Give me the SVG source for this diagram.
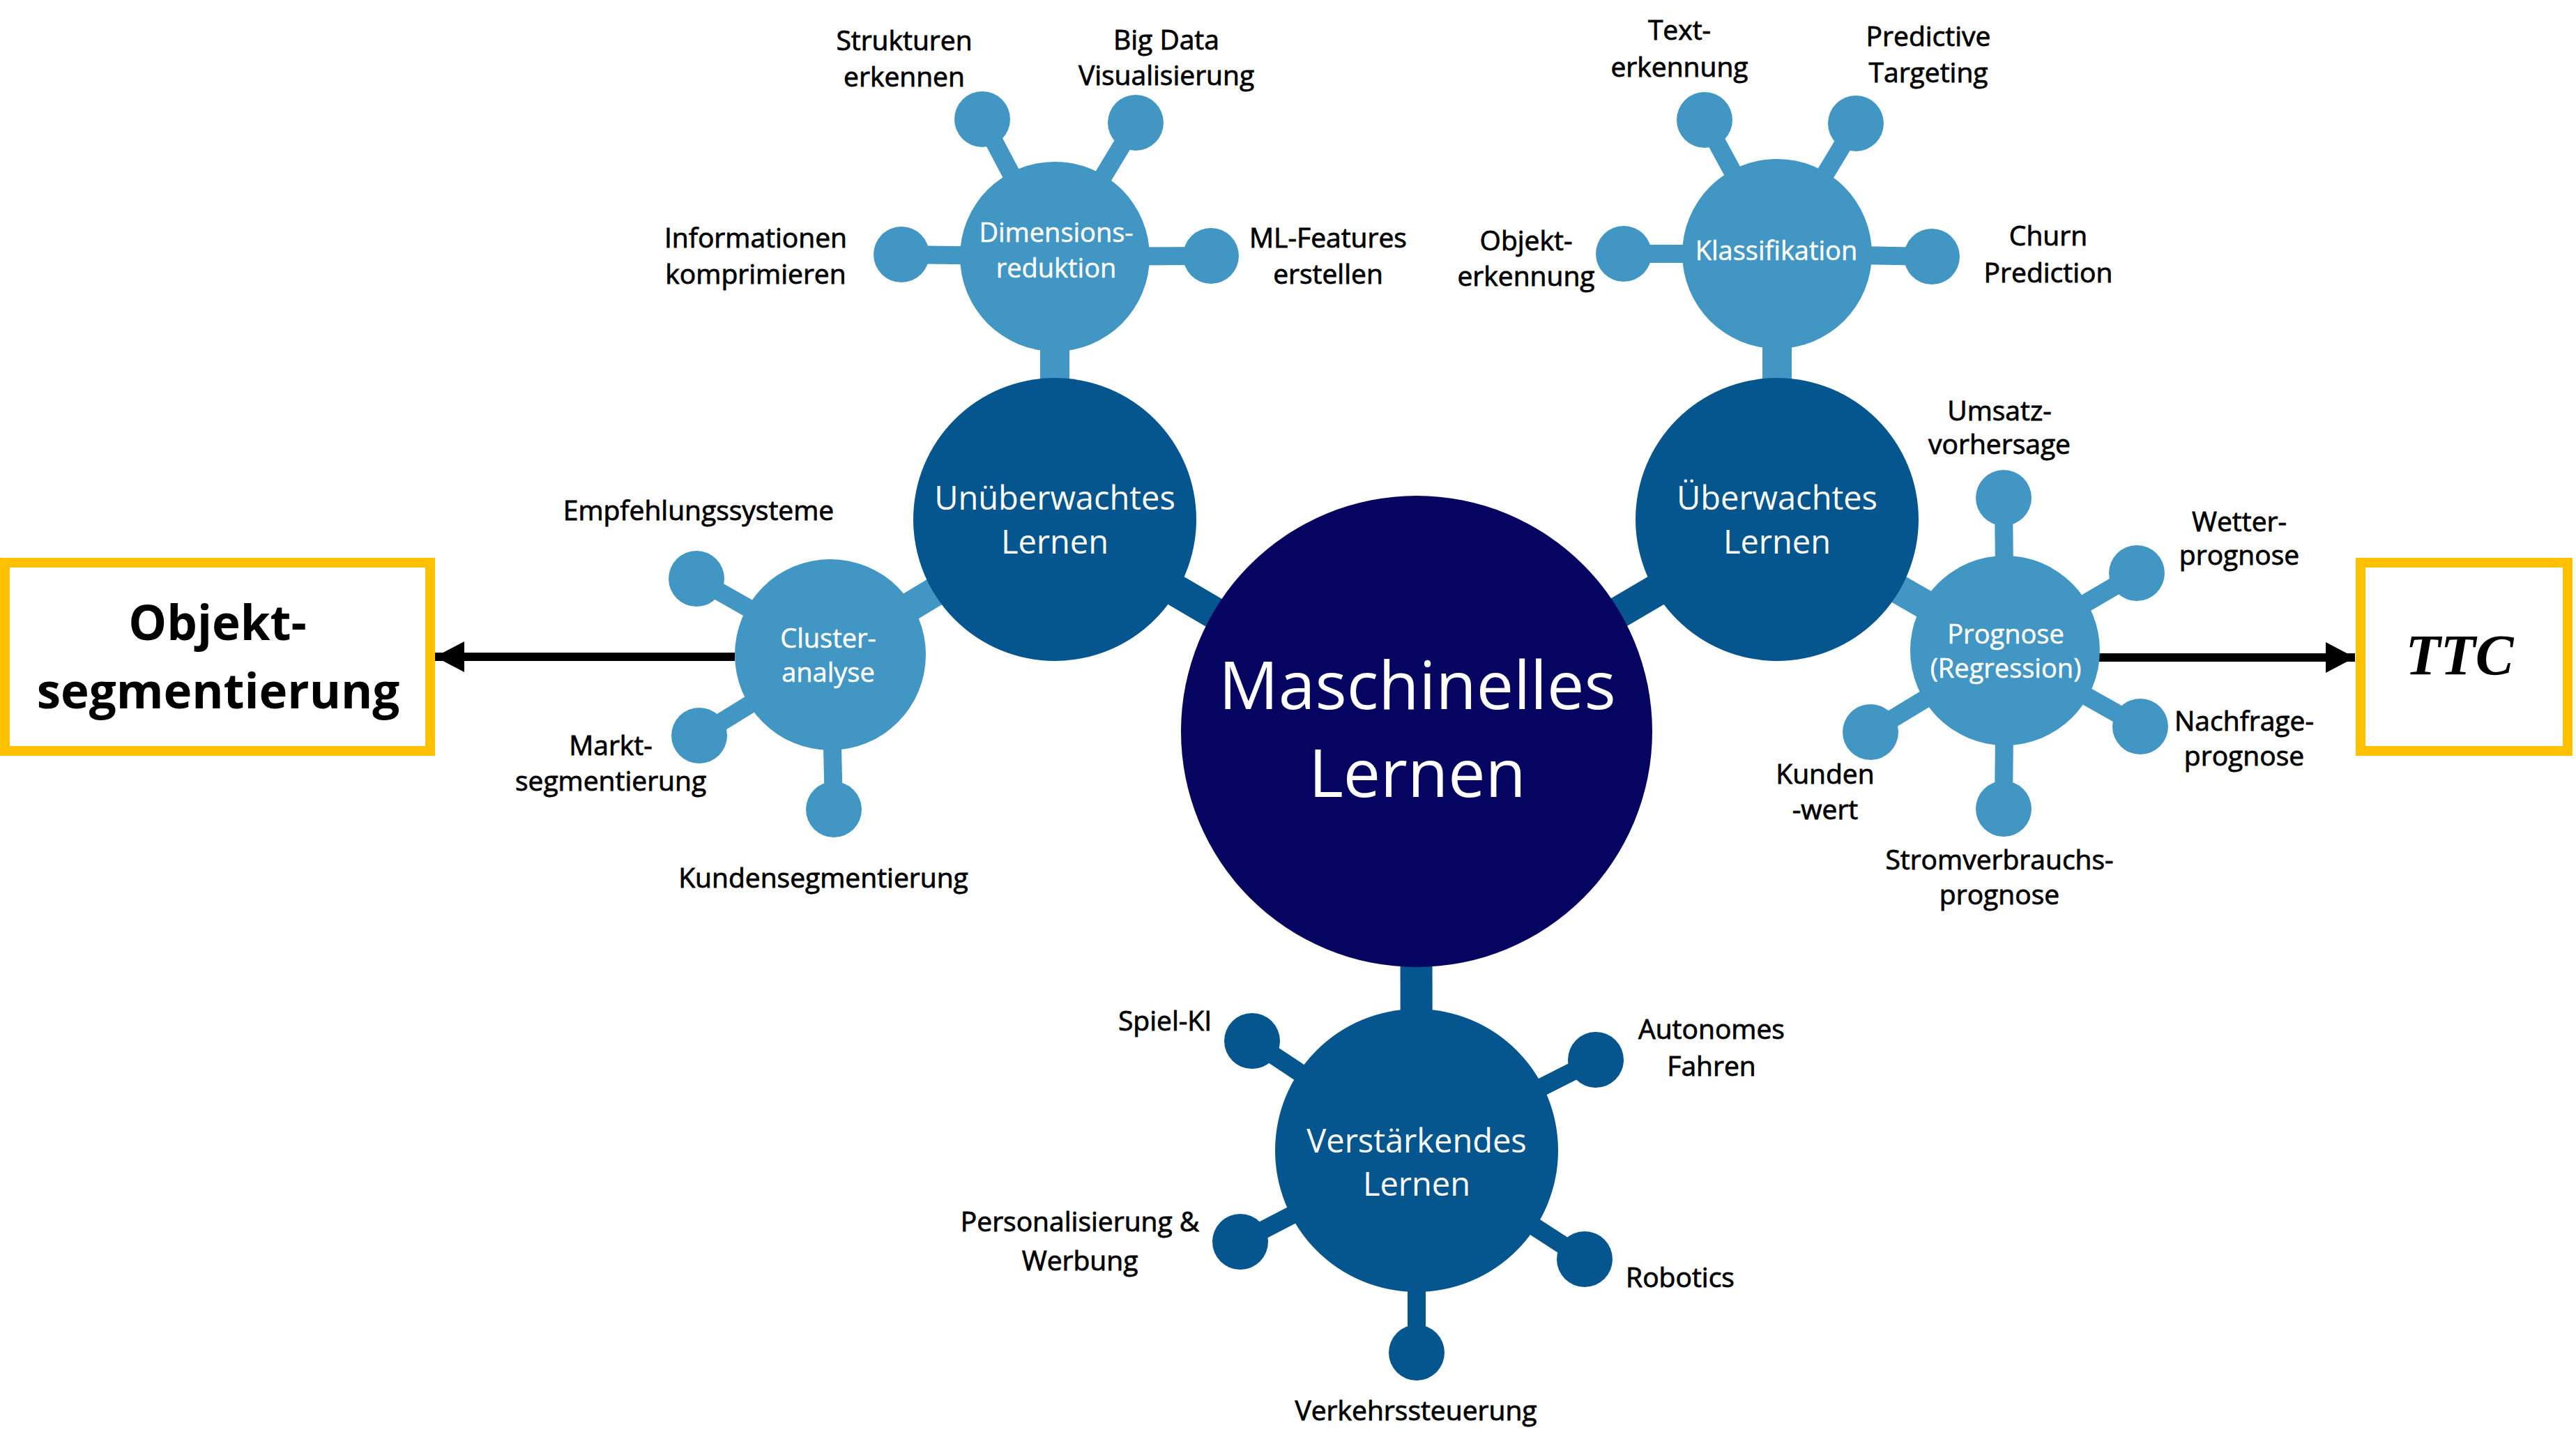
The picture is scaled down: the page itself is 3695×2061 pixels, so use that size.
<svg xmlns="http://www.w3.org/2000/svg" width="3695" height="2061" viewBox="0 0 3695 2061">
<style>
.l0{fill:#050561}
.l1{fill:#05568f}
.l2{fill:#4196c4}
.c1{stroke:#05568f;stroke-width:46;fill:none}
.c2{stroke:#4196c4;stroke-width:42;fill:none}
.cl{stroke:#4196c4;stroke-width:26;fill:none}
.cd{stroke:#05568f;stroke-width:26;fill:none}
.arr{stroke:#000;stroke-width:12;fill:none}
text{font-family:"Open Sans","Noto Sans",sans-serif;text-anchor:middle}
.lab{font-size:39px;fill:#000;stroke:#000;stroke-width:0.8}
.w2{font-size:38px;fill:#fff;stroke:#fff;stroke-width:0.5}
.w1{font-size:47px;fill:#fff}
.w0{font-size:95px;fill:#fff}
.box{fill:#fff;stroke:#FFC000;stroke-width:14}
.bt{font-size:69px;font-weight:bold;fill:#000}
.ttc{font-family:"Liberation Serif","DejaVu Serif",serif;font-size:82px;font-weight:bold;font-style:italic;fill:#000}
</style>
<defs>
<marker id="ah" markerUnits="userSpaceOnUse" markerWidth="42" markerHeight="44" viewBox="0 0 42 44" refX="42" refY="22" orient="auto">
<path d="M0,0 L42,22 L0,44 z" fill="#000"/>
</marker>
</defs>
<rect width="3695" height="2061" fill="#fff"/>
<g id="connectors">
<line class="c1" x1="1513" y1="745" x2="2031" y2="1049"/>
<line class="c1" x1="2549" y1="745" x2="2031" y2="1049"/>
<line class="c1" x1="2032" y1="1650" x2="2031" y2="1049"/>
<line class="c2" x1="1513" y1="368" x2="1513" y2="745"/>
<line class="c2" x1="1191" y1="939" x2="1513" y2="745"/>
<line class="c2" x1="2549" y1="364" x2="2549" y2="745"/>
<line class="c2" x1="2876" y1="933" x2="2549" y2="745"/>
<line class="cl" x1="1409" y1="171" x2="1513" y2="368"/>
<line class="cl" x1="1629" y1="176" x2="1513" y2="368"/>
<line class="cl" x1="1293" y1="365" x2="1513" y2="368"/>
<line class="cl" x1="1737" y1="367" x2="1513" y2="368"/>
<line class="cl" x1="2445" y1="172" x2="2549" y2="364"/>
<line class="cl" x1="2662" y1="177" x2="2549" y2="364"/>
<line class="cl" x1="2329" y1="364" x2="2549" y2="364"/>
<line class="cl" x1="2771" y1="368" x2="2549" y2="364"/>
<line class="cl" x1="999" y1="830" x2="1191" y2="939"/>
<line class="cl" x1="1003" y1="1055" x2="1191" y2="939"/>
<line class="cl" x1="1196" y1="1161" x2="1191" y2="939"/>
<line class="cl" x1="2874" y1="714" x2="2876" y2="933"/>
<line class="cl" x1="3065" y1="822" x2="2876" y2="933"/>
<line class="cl" x1="3070" y1="1042" x2="2876" y2="933"/>
<line class="cl" x1="2683" y1="1050" x2="2876" y2="933"/>
<line class="cl" x1="2874" y1="1160" x2="2876" y2="933"/>
<line class="cd" x1="1796" y1="1493" x2="2032" y2="1650"/>
<line class="cd" x1="2289" y1="1520" x2="2032" y2="1650"/>
<line class="cd" x1="1779" y1="1781" x2="2032" y2="1650"/>
<line class="cd" x1="2273" y1="1806" x2="2032" y2="1650"/>
<line class="cd" x1="2032" y1="1940" x2="2032" y2="1650"/>
<line class="arr" x1="1054" y1="942" x2="624" y2="942" marker-end="url(#ah)"/>
<line class="arr" x1="3011" y1="943" x2="3378" y2="943" marker-end="url(#ah)"/>
</g>
<g id="main">
<circle class="l0" cx="2032" cy="1049" r="338"/>
<text class="w0" x="2033" y="1017">Maschinelles</text>
<text class="w0" x="2033" y="1143">Lernen</text>
</g>
<g id="unueberwacht">
<circle class="l1" cx="1513" cy="745" r="203"/>
<text class="w1" x="1513" y="731">Unüberwachtes</text>
<text class="w1" x="1513" y="794">Lernen</text>
</g>
<g id="ueberwacht">
<circle class="l1" cx="2549" cy="745" r="203"/>
<text class="w1" x="2549" y="731">Überwachtes</text>
<text class="w1" x="2549" y="794">Lernen</text>
</g>
<g id="verstaerkend">
<circle class="l1" cx="2032" cy="1650" r="203"/>
<text class="w1" x="2032" y="1653">Verstärkendes</text>
<text class="w1" x="2032" y="1715">Lernen</text>
</g>
<g id="dimred">
<circle class="l2" cx="1513" cy="368" r="136"/>
<text class="w2" x="1515" y="347">Dimensions-</text>
<text class="w2" x="1515" y="398">reduktion</text>
</g>
<g id="klass">
<circle class="l2" cx="2549" cy="364" r="136"/>
<text class="w2" x="2548" y="373">Klassifikation</text>
</g>
<g id="cluster">
<circle class="l2" cx="1191" cy="939" r="137"/>
<text class="w2" x="1188" y="929">Cluster-</text>
<text class="w2" x="1188" y="978">analyse</text>
</g>
<g id="prognose">
<circle class="l2" cx="2876" cy="933" r="136"/>
<text class="w2" x="2877" y="923">Prognose</text>
<text class="w2" x="2877" y="972">(Regression)</text>
</g>
<g id="strukturen">
<circle class="l2" cx="1409" cy="171" r="40"/>
<text class="lab" x="1297" y="72">Strukturen</text>
<text class="lab" x="1297" y="124">erkennen</text>
</g>
<g id="bigdata">
<circle class="l2" cx="1629" cy="176" r="40"/>
<text class="lab" x="1673" y="71">Big Data</text>
<text class="lab" x="1673" y="122">Visualisierung</text>
</g>
<g id="informationen">
<circle class="l2" cx="1293" cy="365" r="40"/>
<text class="lab" x="1084" y="355">Informationen</text>
<text class="lab" x="1084" y="407">komprimieren</text>
</g>
<g id="mlfeatures">
<circle class="l2" cx="1737" cy="367" r="40"/>
<text class="lab" x="1905" y="355">ML-Features</text>
<text class="lab" x="1905" y="407">erstellen</text>
</g>
<g id="texterkennung">
<circle class="l2" cx="2445" cy="172" r="40"/>
<text class="lab" x="2409" y="57">Text-</text>
<text class="lab" x="2409" y="110">erkennung</text>
</g>
<g id="predictive">
<circle class="l2" cx="2662" cy="177" r="40"/>
<text class="lab" x="2766" y="66">Predictive</text>
<text class="lab" x="2766" y="118">Targeting</text>
</g>
<g id="objekterkennung">
<circle class="l2" cx="2329" cy="364" r="40"/>
<text class="lab" x="2189" y="359">Objekt-</text>
<text class="lab" x="2189" y="410">erkennung</text>
</g>
<g id="churn">
<circle class="l2" cx="2771" cy="368" r="40"/>
<text class="lab" x="2938" y="352">Churn</text>
<text class="lab" x="2938" y="405">Prediction</text>
</g>
<g id="empfehlung">
<circle class="l2" cx="999" cy="830" r="40"/>
<text class="lab" x="1002" y="746">Empfehlungssysteme</text>
</g>
<g id="markt">
<circle class="l2" cx="1003" cy="1055" r="40"/>
<text class="lab" x="876" y="1083">Markt-</text>
<text class="lab" x="876" y="1134">segmentierung</text>
</g>
<g id="kundenseg">
<circle class="l2" cx="1196" cy="1161" r="40"/>
<text class="lab" x="1181" y="1273">Kundensegmentierung</text>
</g>
<g id="umsatz">
<circle class="l2" cx="2874" cy="714" r="40"/>
<text class="lab" x="2868" y="603">Umsatz-</text>
<text class="lab" x="2868" y="651">vorhersage</text>
</g>
<g id="wetter">
<circle class="l2" cx="3065" cy="822" r="40"/>
<text class="lab" x="3212" y="762">Wetter-</text>
<text class="lab" x="3212" y="810">prognose</text>
</g>
<g id="nachfrage">
<circle class="l2" cx="3070" cy="1042" r="40"/>
<text class="lab" x="3219" y="1048">Nachfrage-</text>
<text class="lab" x="3219" y="1098">prognose</text>
</g>
<g id="kundenwert">
<circle class="l2" cx="2683" cy="1050" r="40"/>
<text class="lab" x="2618" y="1124">Kunden</text>
<text class="lab" x="2618" y="1175">-wert</text>
</g>
<g id="strom">
<circle class="l2" cx="2874" cy="1160" r="40"/>
<text class="lab" x="2868" y="1247">Stromverbrauchs-</text>
<text class="lab" x="2868" y="1297">prognose</text>
</g>
<g id="spielki">
<circle class="l1" cx="1796" cy="1493" r="40"/>
<text class="lab" x="1671" y="1478">Spiel-KI</text>
</g>
<g id="autonom">
<circle class="l1" cx="2289" cy="1520" r="40"/>
<text class="lab" x="2455" y="1490">Autonomes</text>
<text class="lab" x="2455" y="1543">Fahren</text>
</g>
<g id="personal">
<circle class="l1" cx="1779" cy="1781" r="40"/>
<text class="lab" x="1549" y="1766">Personalisierung &amp;</text>
<text class="lab" x="1549" y="1822">Werbung</text>
</g>
<g id="robotics">
<circle class="l1" cx="2273" cy="1806" r="40"/>
<text class="lab" x="2410" y="1846">Robotics</text>
</g>
<g id="verkehr">
<circle class="l1" cx="2032" cy="1940" r="40"/>
<text class="lab" x="2031" y="2037">Verkehrssteuerung</text>
</g>
<g id="objektseg">
<rect class="box" x="7" y="807" width="610" height="270"/>
<text class="bt" x="312" y="918">Objekt-</text>
<text class="bt" x="313" y="1016">segmentierung</text>
</g>
<g id="ttc">
<rect class="box" x="3386" y="807" width="297" height="270"/>
<text class="ttc" x="3528" y="967">TTC</text>
</g>
</svg>
